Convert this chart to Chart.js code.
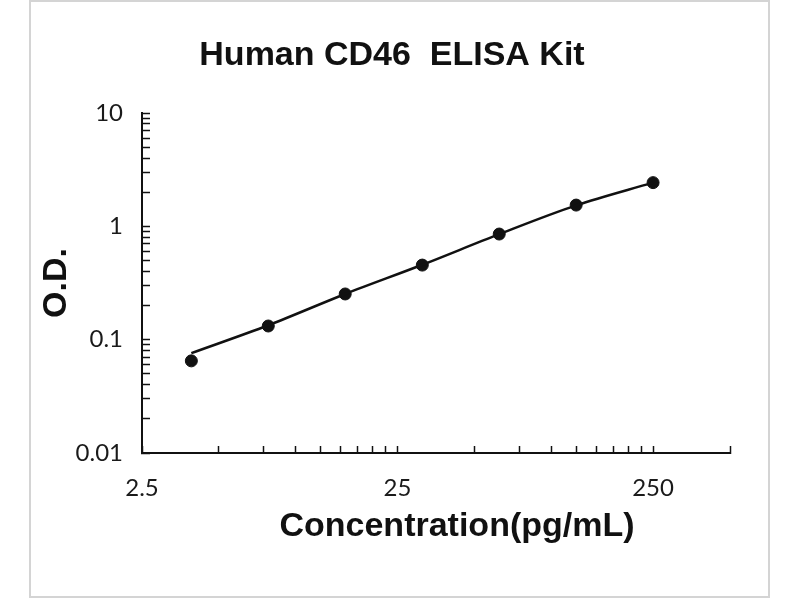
<!DOCTYPE html>
<html><head><meta charset="utf-8">
<script src="https://cdn.jsdelivr.net/npm/chart.js@4.4.1/dist/chart.umd.min.js"></script>
<style>html,body{margin:0;padding:0;background:#fff;}canvas{display:block;}</style>
</head><body>
<canvas id="c" width="800" height="600"></canvas>
<script>
const chartTitle = "Human CD46  ELISA Kit";
const xAxisTitle = "Concentration(pg/mL)";
const yAxisTitle = "O.D.";
const concentrations = [3.9, 7.8, 15.6, 31.25, 62.5, 125, 250];
const odValues = [0.065, 0.132, 0.253, 0.455, 0.855, 1.54, 2.43];
const fitValues = [0.076, 0.134, 0.253, 0.458, 0.853, 1.53, 2.43];
const xLabelTicks = [2.5, 25, 250];
const xMinorTicks = [5, 7.5, 10, 12.5, 15, 17.5, 20, 22.5, 50, 75, 100, 125, 150, 175, 200, 225, 500];
const yLabelTicks = [0.01, 0.1, 1, 10];
const yMinorTicks = [0.02, 0.03, 0.04, 0.05, 0.06, 0.07, 0.08, 0.09, 0.2, 0.3, 0.4, 0.5, 0.6, 0.7, 0.8, 0.9, 2, 3, 4, 5, 6, 7, 8, 9];
const xMin = 2.5, xMax = 500, yMin = 0.01, yMax = 10;

const xTickValues = [...xLabelTicks, ...xMinorTicks].sort((a, b) => a - b);
const yTickValues = [...yLabelTicks, ...yMinorTicks].sort((a, b) => a - b);

const tickFont = { family: "Lato, 'Open Sans', sans-serif", size: 24 };

const decor = {
  id: 'decor',
  beforeDraw(chart) {
    const ctx = chart.ctx;
    ctx.save();
    ctx.fillStyle = '#fff';
    ctx.fillRect(0, 0, chart.width, chart.height);
    ctx.strokeStyle = '#d4d4d4';
    ctx.lineWidth = 2;
    ctx.strokeRect(30, 1, 739, 596);
    ctx.restore();
  },
  afterDraw(chart) {
    const ctx = chart.ctx;
    ctx.save();
    ctx.fillStyle = '#111';
    ctx.textAlign = 'center';
    ctx.textBaseline = 'middle';
    ctx.font = "bold 34px 'Liberation Sans', Arial, sans-serif";
    ctx.fillText(chartTitle, 392, 56);
    ctx.fillText(xAxisTitle, 457, 527);
    ctx.translate(57, 283);
    ctx.rotate(-Math.PI / 2);
    ctx.fillText(yAxisTitle, 0, 0);
    ctx.restore();
  }
};

new Chart(document.getElementById('c'), {
  type: 'scatter',
  data: {
    datasets: [
      {
        label: 'fit',
        data: concentrations.map((x, i) => ({ x: x, y: fitValues[i] })),
        showLine: true,
        borderColor: '#111',
        borderWidth: 2.5,
        pointRadius: 0,
        cubicInterpolationMode: 'monotone',
        fill: false
      },
      {
        label: 'standards',
        data: concentrations.map((x, i) => ({ x: x, y: odValues[i] })),
        showLine: false,
        backgroundColor: '#111',
        borderColor: '#111',
        pointRadius: 6,
        pointHoverRadius: 6
      }
    ]
  },
  options: {
    responsive: false,
    animation: false,
    devicePixelRatio: 1,
    layout: { padding: { top: 113, left: 0, right: 70, bottom: 0 } },
    plugins: { legend: { display: false }, title: { display: false }, tooltip: { enabled: false } },
    scales: {
      x: {
        type: 'logarithmic',
        position: 'bottom',
        min: xMin, max: xMax,
        afterBuildTicks: (s) => { s.ticks = xTickValues.map(v => ({ value: v })); },
        afterFit: (s) => { s.height = 147; },
        border: { display: true, color: '#111', width: 2 },
        grid: { display: true, drawOnChartArea: false, drawTicks: true, tickLength: -7, tickColor: '#111', tickWidth: 1.5 },
        ticks: {
          autoSkip: false, maxRotation: 0, minRotation: 0, padding: 28,
          color: '#1a1a1a', font: tickFont,
          callback: (v) => xLabelTicks.includes(v) ? String(v) : ''
        }
      },
      y: {
        type: 'logarithmic',
        position: 'left',
        min: yMin, max: yMax,
        afterBuildTicks: (s) => { s.ticks = yTickValues.map(v => ({ value: v })); },
        afterFit: (s) => { s.width = 142; },
        border: { display: true, color: '#111', width: 2 },
        grid: { display: true, drawOnChartArea: false, drawTicks: true, tickLength: -8, tickColor: '#111', tickWidth: 1.5 },
        ticks: {
          autoSkip: false, padding: 27,
          color: '#1a1a1a', font: tickFont,
          callback: (v) => yLabelTicks.includes(v) ? String(v) : ''
        }
      }
    }
  },
  plugins: [decor]
});
</script>
</body></html>
